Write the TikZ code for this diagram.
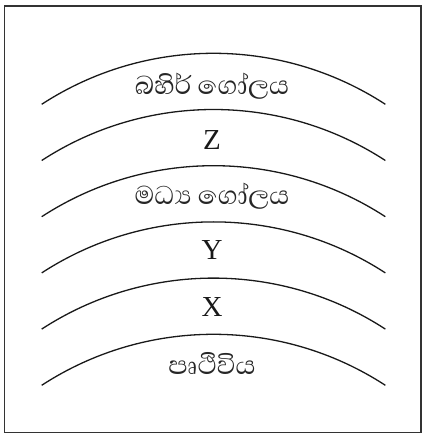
\documentclass[tikz,border=0pt]{standalone}
\usepackage{fontspec}
\setmainfont{Liberation Serif}
\newfontfamily\sinhala[Script=Sinhala]{Abhaya Libre}
\begin{document}
\begin{tikzpicture}[x=1pt,y=1pt,
  layer/.style={line width=1.3pt, draw=black!90},
  frame/.style={line width=1.8pt, draw=black!80},
  sin/.style={font=\sinhala\fontsize{33}{36}\selectfont, text=black!85, inner sep=0pt, anchor=base},
  lat/.style={font=\fontsize{29}{30}\selectfont, text=black!90, inner sep=0pt}]
\useasboundingbox (0,0) rectangle (422,440);
\draw[frame] (4.5,7.5) rectangle (420.7,434);
\foreach \y in {335.7,279.5,223.3,167.1,110.9,54.7}{
  \draw[layer] (41.7,\y) arc[start angle=123.07, end angle=56.93, radius=314.9];
}
\node[sin] (outer) at (212,345) {බහිර් ගෝලය};
\node[lat] (z) at (212,300) {Z};
\node[sin] (mid) at (212,235) {මධ්^^^^200dය ගෝලය};
\node[lat] (y) at (212,190) {Y};
\node[lat] (x) at (212,133) {X};
\node[sin] (earth) at (212,65) {පෘථිවිය};
\end{tikzpicture}
\end{document}
